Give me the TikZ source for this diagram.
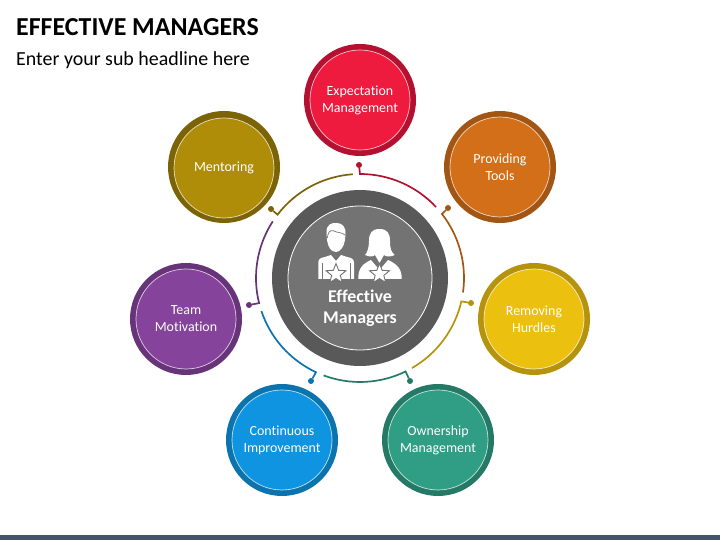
\documentclass[tikz,border=0pt]{standalone}
\usepackage{fontspec}
\setmainfont[Ligatures=NoCommon]{Carlito}
\usetikzlibrary{shapes.geometric}
\definecolor{redfill}{HTML}{EE1B3F}
\definecolor{reddark}{HTML}{B5102F}
\definecolor{orangefill}{HTML}{D36F18}
\definecolor{orangedark}{HTML}{A35614}
\definecolor{yellowfill}{HTML}{ECC00F}
\definecolor{yellowdark}{HTML}{B5930D}
\definecolor{greenfill}{HTML}{2F9E84}
\definecolor{greendark}{HTML}{247A66}
\definecolor{bluefill}{HTML}{0E94E0}
\definecolor{bluedark}{HTML}{0B74AE}
\definecolor{purplefill}{HTML}{86439B}
\definecolor{purpledark}{HTML}{67347A}
\definecolor{olivefill}{HTML}{B08D08}
\definecolor{olivedark}{HTML}{7B6306}
\definecolor{hubdark}{HTML}{595959}
\definecolor{hubfill}{HTML}{737373}
\definecolor{barcolor}{HTML}{44546A}
\begin{document}
\begin{tikzpicture}[x=1bp,y=1bp]

\tikzset{band/.style = {shape=circle,minimum size=112bp,inner sep=0pt,outer sep=0pt}}
\tikzset{badge/.style = {shape=circle,minimum size=100bp,inner sep=0pt,outer sep=0pt,draw=white,draw opacity=.75,line width=.7pt,text=white,align=center,font=\fontsize{14}{17}\selectfont}}
\tikzset{pin/.style = {shape=circle,minimum size=6bp,inner sep=0pt,outer sep=0pt}}
\tikzset{link/.style = {line width=1.7pt}}
\tikzset{badgestar/.style = {shape=star,star points=5,star point ratio=2.3,minimum size=21bp,inner sep=0pt,fill=white,draw=hubfill,line width=.9pt}}
\useasboundingbox (0,0) rectangle (720,540);
\fill[barcolor] (0,0) rectangle (720,5);
% titles
\node[anchor=base west,inner sep=0pt,font=\fontsize{26}{30}\selectfont\bfseries] (title) at (16,504) {EFFECTIVE MANAGERS};
\node[anchor=base west,inner sep=0pt,font=\fontsize{20}{24}\selectfont] (subtitle) at (16,474) {Enter your sub headline here};
% hub
\node[shape=circle,minimum size=176bp,inner sep=0pt,fill=hubdark] (hubband) at (360,262) {};
\node[shape=circle,minimum size=144bp,inner sep=0pt,fill=hubfill,draw=white,line width=.8pt] (hub) at (360,262) {};
\node[align=center,text=white,inner sep=0pt,font=\fontsize{18}{21}\selectfont\bfseries] (hubtext) at (360,232) {Effective\\Managers};
% man
\fill[white] (326.5,307) .. controls (326,316) and (332,317.5) .. (337,317) .. controls (343,317) and (346,312) .. (345.5,306) -- (345,300) .. controls (344,293) and (340,288) .. (336,288) .. controls (331,288) and (328,293) .. (327,300) -- cycle;
\draw[hubfill,line width=.7pt] (327.3,302) .. controls (328,308) and (330,310) .. (333.3,309.3) .. controls (337,307) and (342,308) .. (345,305);
\fill[white] (318.3,261) -- (318.3,277) .. controls (318.3,281) and (320,282) .. (325,283) -- (331,285) -- (336,279) -- (341,285) -- (347,283) .. controls (352,282) and (354,281) .. (354,277) -- (354,261) -- cycle;
\draw[hubfill,line width=.6pt] (322,261) -- (322,277);
\draw[hubfill,line width=.6pt] (350,261) -- (350,277);
\node[badgestar] (manstar) at (336,266) {};
% woman
\fill[white] (379.5,311) .. controls (372,311) and (369,307) .. (369,299) .. controls (369,292) and (367,287) .. (365,285) .. controls (369,283) and (373,283) .. (375,285) -- (379.5,277) -- (384,285) .. controls (386,283) and (391,283) .. (394.7,285) .. controls (391,288) and (390,292) .. (390,299) .. controls (390,307) and (387,311) .. (379.5,311) -- cycle;
\fill[white] (358.3,261) .. controls (358,271) and (362,276) .. (371,280) -- (379.5,270) -- (388,280) .. controls (397,276) and (402,271) .. (401.7,261) -- cycle;
\node[badgestar] (womanstar) at (379.5,266) {};
% circles
\node[band,fill=reddark] (expband) at (360,440) {};
\node[badge,fill=redfill] (exp) at (360,440) {Expectation\\Management};
\node[band,fill=orangedark] (toolsband) at (500,373) {};
\node[badge,fill=orangefill] (tools) at (500,373) {Providing\\Tools};
\node[band,fill=yellowdark] (hurdlesband) at (534,221) {};
\node[badge,fill=yellowfill] (hurdles) at (534,221) {Removing\\Hurdles};
\node[band,fill=greendark] (ownband) at (438,100) {};
\node[badge,fill=greenfill] (own) at (438,100) {Ownership\\Management};
\node[band,fill=bluedark] (contband) at (282,100) {};
\node[badge,fill=bluefill] (cont) at (282,100) {Continuous\\Improvement};
\node[band,fill=purpledark] (teamband) at (186,221) {};
\node[badge,fill=purplefill] (team) at (186,221) {Team\\Motivation};
\node[band,fill=olivedark] (mentorband) at (224,373) {};
\node[badge,fill=olivefill] (mentor) at (224,372) {Mentoring};
% pins
\node[pin,fill=reddark] (exppin) at (359,375) {};
\node[pin,fill=orangedark] (toolspin) at (448,332) {};
\node[pin,fill=yellowdark] (hurdlespin) at (471,237) {};
\node[pin,fill=greendark] (ownpin) at (410,159) {};
\node[pin,fill=bluedark] (contpin) at (311,159) {};
\node[pin,fill=purpledark] (teampin) at (249,235) {};
\node[pin,fill=olivedark] (mentorpin) at (271,331) {};
%edges
\coordinate (expknee) at ([shift={(90:104)}]hub.center);
\coordinate (toolsknee) at ([shift={(38:104)}]hub.center);
\coordinate (hurdlesknee) at ([shift={(-13:104)}]hub.center);
\coordinate (ownknee) at ([shift={(-64:104)}]hub.center);
\coordinate (contknee) at ([shift={(-115:104)}]hub.center);
\coordinate (teamknee) at ([shift={(-166:104)}]hub.center);
\coordinate (mentorknee) at ([shift={(142.5:104)}]hub.center);
\draw [link,reddark] (exppin) -- (expknee) arc[start angle=90,end angle=43,radius=104];
\draw [link,orangedark] (toolspin) -- (toolsknee) arc[start angle=38,end angle=-8,radius=104];
\draw [link,yellowdark] (hurdlespin) -- (hurdlesknee) arc[start angle=-13,end angle=-60,radius=104];
\draw [link,greendark] (ownpin) -- (ownknee) arc[start angle=-64,end angle=-110.5,radius=104];
\draw [link,bluedark] (contpin) -- (contknee) arc[start angle=-115,end angle=-161.5,radius=104];
\draw [link,purpledark] (teampin) -- (teamknee) arc[start angle=-166,end angle=-213,radius=104];
\draw [link,olivedark] (mentorpin) -- (mentorknee) arc[start angle=142.5,end angle=94,radius=104];
\end{tikzpicture}
\end{document}
